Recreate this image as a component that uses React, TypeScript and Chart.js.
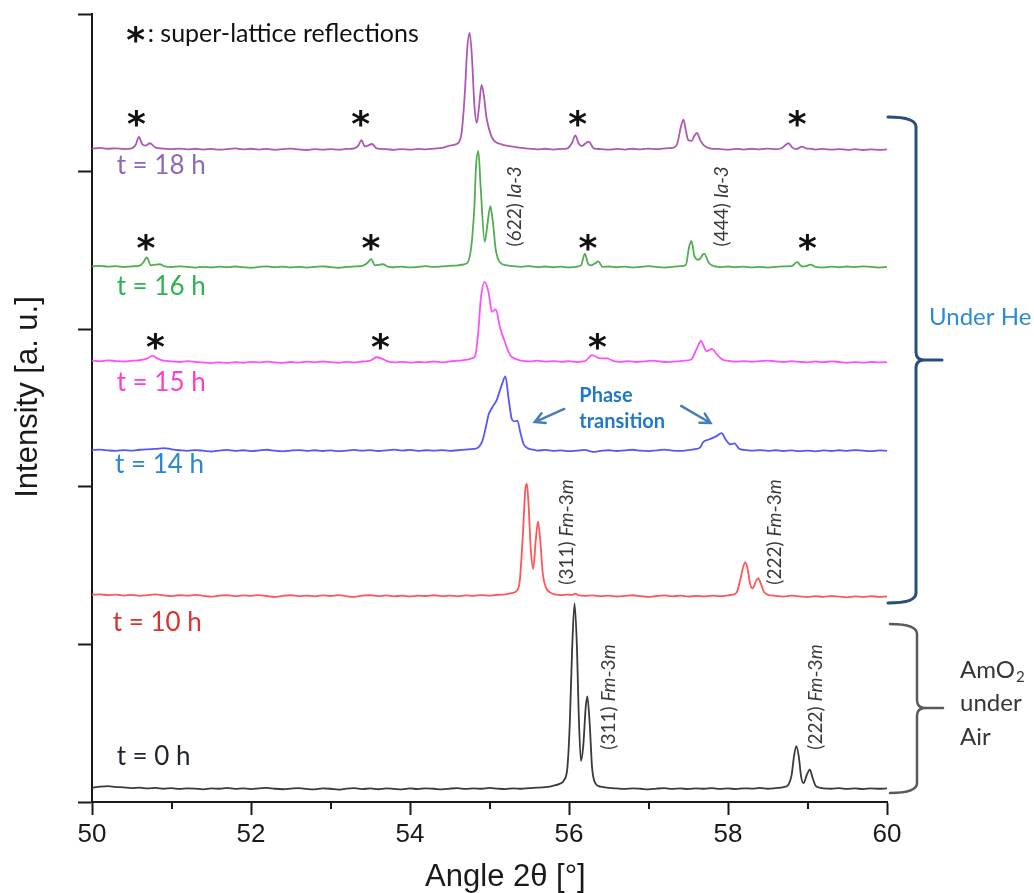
import React, { useEffect, useRef } from "react";
import { Chart, registerables } from "chart.js";

Chart.register(...registerables);

type Pt = [number, number];

// ---------------- axes ----------------
const angleMin = 50;
const angleMax = 60;
const intensityMin = 0;
const intensityMax = 5;
const majorTicks = [50, 52, 54, 56, 58, 60];
const minorTicks = [51, 53, 55, 57, 59];
const xTitle = "Angle 2\u03b8 [\u00b0]";
const yTitle = "Intensity [a. u.]";

// ---------------- series (angle 2θ, offset intensity) ----------------
const t0h: Pt[] = [
  [50.0, 0.090], [50.1, 0.097], [50.2, 0.101], [50.3, 0.095], [50.4, 0.093], [50.5, 0.088], [50.6, 0.091], [50.7, 0.086], [50.8, 0.089], [50.9, 0.084],
  [51.0, 0.088], [51.1, 0.083], [51.2, 0.087], [51.3, 0.085], [51.4, 0.080], [51.5, 0.086], [51.6, 0.084], [51.7, 0.089], [51.8, 0.083], [51.9, 0.087],
  [52.0, 0.082], [52.1, 0.086], [52.2, 0.090], [52.3, 0.084], [52.4, 0.081], [52.5, 0.085], [52.6, 0.088], [52.7, 0.083], [52.8, 0.080], [52.9, 0.086],
  [53.0, 0.084], [53.1, 0.079], [53.2, 0.085], [53.3, 0.088], [53.4, 0.082], [53.5, 0.086], [53.6, 0.081], [53.7, 0.087], [53.8, 0.083], [53.9, 0.080],
  [54.0, 0.086], [54.1, 0.082], [54.2, 0.087], [54.3, 0.084], [54.4, 0.080], [54.5, 0.085], [54.6, 0.088], [54.7, 0.083], [54.8, 0.087], [54.9, 0.084],
  [55.0, 0.089], [55.1, 0.085], [55.2, 0.082], [55.3, 0.087], [55.4, 0.084], [55.5, 0.088], [55.6, 0.091], [55.7, 0.095], [55.8, 0.103], [55.88, 0.115],
  [55.94, 0.14], [55.98, 0.22], [56.01, 0.50], [56.04, 0.98], [56.07, 1.26], [56.10, 0.98], [56.12, 0.60], [56.15, 0.26], [56.18, 0.36], [56.21, 0.60],
  [56.23, 0.67], [56.26, 0.50], [56.29, 0.22], [56.33, 0.12], [56.4, 0.097], [56.5, 0.090], [56.6, 0.086], [56.7, 0.083], [56.8, 0.087], [56.9, 0.084],
  [57.0, 0.080], [57.1, 0.085], [57.2, 0.088], [57.3, 0.083], [57.4, 0.086], [57.5, 0.082], [57.6, 0.087], [57.7, 0.084], [57.8, 0.088], [57.9, 0.083],
  [58.0, 0.086], [58.1, 0.082], [58.2, 0.087], [58.3, 0.085], [58.4, 0.089], [58.5, 0.084], [58.6, 0.088], [58.7, 0.094], [58.76, 0.11], [58.80, 0.17],
  [58.83, 0.29], [58.86, 0.355], [58.89, 0.29], [58.92, 0.16], [58.95, 0.12], [58.99, 0.17], [59.03, 0.205], [59.06, 0.16], [59.10, 0.105], [59.15, 0.091],
  [59.2, 0.087], [59.3, 0.084], [59.4, 0.088], [59.5, 0.083], [59.6, 0.086], [59.7, 0.082], [59.8, 0.087], [59.9, 0.084], [60.0, 0.086],
];

const t10h: Pt[] = [
  [50.0, 1.315], [50.1, 1.318], [50.2, 1.312], [50.3, 1.316], [50.4, 1.310], [50.5, 1.314], [50.6, 1.308], [50.7, 1.313], [50.8, 1.317], [50.9, 1.311],
  [51.0, 1.306], [51.1, 1.312], [51.2, 1.309], [51.3, 1.314], [51.4, 1.308], [51.5, 1.303], [51.6, 1.309], [51.7, 1.312], [51.8, 1.306], [51.9, 1.311],
  [52.0, 1.308], [52.1, 1.313], [52.2, 1.307], [52.3, 1.302], [52.4, 1.308], [52.5, 1.312], [52.6, 1.306], [52.7, 1.310], [52.8, 1.305], [52.9, 1.311],
  [53.0, 1.307], [53.1, 1.313], [53.2, 1.306], [53.3, 1.302], [53.4, 1.309], [53.5, 1.312], [53.6, 1.306], [53.7, 1.311], [53.8, 1.305], [53.9, 1.309],
  [54.0, 1.304], [54.1, 1.310], [54.2, 1.307], [54.3, 1.312], [54.4, 1.306], [54.5, 1.310], [54.6, 1.305], [54.7, 1.311], [54.8, 1.308], [54.9, 1.313],
  [55.0, 1.309], [55.1, 1.315], [55.2, 1.318], [55.28, 1.325], [55.34, 1.34], [55.38, 1.40], [55.42, 1.70], [55.45, 1.98], [55.47, 2.02], [55.49, 1.90],
  [55.52, 1.60], [55.55, 1.48], [55.58, 1.65], [55.61, 1.78], [55.64, 1.65], [55.67, 1.45], [55.71, 1.36], [55.76, 1.33], [55.82, 1.318], [55.9, 1.313],
  [55.98, 1.316], [56.04, 1.314], [56.08, 1.322], [56.12, 1.312], [56.2, 1.308], [56.3, 1.311], [56.4, 1.306], [56.5, 1.309], [56.6, 1.304], [56.7, 1.308],
  [56.8, 1.312], [56.9, 1.306], [57.0, 1.301], [57.1, 1.307], [57.2, 1.311], [57.3, 1.305], [57.4, 1.309], [57.5, 1.303], [57.6, 1.308], [57.7, 1.304],
  [57.8, 1.309], [57.9, 1.306], [58.0, 1.311], [58.06, 1.316], [58.11, 1.33], [58.15, 1.40], [58.19, 1.49], [58.22, 1.52], [58.25, 1.47], [58.28, 1.38],
  [58.31, 1.355], [58.35, 1.40], [58.38, 1.42], [58.41, 1.39], [58.45, 1.335], [58.5, 1.315], [58.6, 1.308], [58.7, 1.303], [58.8, 1.309], [58.9, 1.305],
  [59.0, 1.300], [59.1, 1.306], [59.2, 1.302], [59.3, 1.308], [59.4, 1.303], [59.5, 1.299], [59.6, 1.305], [59.7, 1.301], [59.8, 1.306], [59.9, 1.302], [60.0, 1.304],
];

const t14h: Pt[] = [
  [50.0, 2.232], [50.1, 2.236], [50.2, 2.231], [50.3, 2.228], [50.4, 2.233], [50.5, 2.229], [50.6, 2.235], [50.7, 2.238], [50.8, 2.240], [50.9, 2.246],
  [51.0, 2.238], [51.1, 2.232], [51.2, 2.228], [51.3, 2.233], [51.4, 2.229], [51.5, 2.224], [51.6, 2.230], [51.7, 2.234], [51.8, 2.228], [51.9, 2.232],
  [52.0, 2.226], [52.1, 2.231], [52.2, 2.235], [52.3, 2.229], [52.4, 2.225], [52.5, 2.230], [52.6, 2.233], [52.7, 2.228], [52.8, 2.232], [52.9, 2.227],
  [53.0, 2.231], [53.1, 2.226], [53.2, 2.230], [53.3, 2.234], [53.4, 2.229], [53.5, 2.233], [53.6, 2.227], [53.7, 2.231], [53.8, 2.236], [53.9, 2.230],
  [54.0, 2.234], [54.1, 2.228], [54.2, 2.232], [54.3, 2.229], [54.4, 2.233], [54.5, 2.228], [54.6, 2.232], [54.7, 2.236], [54.8, 2.240], [54.86, 2.25],
  [54.91, 2.29], [54.95, 2.37], [54.99, 2.46], [55.03, 2.50], [55.09, 2.55], [55.15, 2.64], [55.20, 2.70], [55.24, 2.56], [55.28, 2.43], [55.31, 2.415],
  [55.35, 2.42], [55.39, 2.34], [55.43, 2.27], [55.48, 2.245], [55.55, 2.236], [55.6, 2.230], [55.7, 2.234], [55.8, 2.228], [55.9, 2.231], [56.0, 2.226],
  [56.1, 2.230], [56.2, 2.234], [56.3, 2.222], [56.4, 2.228], [56.5, 2.232], [56.6, 2.227], [56.7, 2.231], [56.8, 2.235], [56.9, 2.229], [57.0, 2.226],
  [57.1, 2.231], [57.2, 2.236], [57.3, 2.230], [57.4, 2.228], [57.5, 2.233], [57.6, 2.240], [57.65, 2.250], [57.69, 2.285], [57.76, 2.300], [57.85, 2.320],
  [57.92, 2.340], [57.97, 2.300], [58.03, 2.270], [58.08, 2.275], [58.14, 2.242], [58.2, 2.234], [58.3, 2.229], [58.4, 2.233], [58.5, 2.228], [58.6, 2.232],
  [58.7, 2.227], [58.8, 2.231], [58.9, 2.226], [59.0, 2.230], [59.1, 2.225], [59.2, 2.231], [59.3, 2.227], [59.4, 2.232], [59.5, 2.228], [59.6, 2.233],
  [59.7, 2.229], [59.8, 2.226], [59.9, 2.231], [60.0, 2.228],
];

const t15h: Pt[] = [
  [50.0, 2.800], [50.1, 2.797], [50.2, 2.802], [50.3, 2.798], [50.4, 2.795], [50.5, 2.800], [50.6, 2.803], [50.7, 2.815], [50.76, 2.832], [50.82, 2.815],
  [50.9, 2.800], [51.0, 2.796], [51.1, 2.792], [51.2, 2.797], [51.3, 2.793], [51.4, 2.788], [51.5, 2.785], [51.6, 2.790], [51.7, 2.786], [51.8, 2.791],
  [51.9, 2.787], [52.0, 2.793], [52.1, 2.789], [52.2, 2.794], [52.3, 2.790], [52.4, 2.786], [52.5, 2.792], [52.6, 2.788], [52.7, 2.794], [52.8, 2.790],
  [52.9, 2.795], [53.0, 2.791], [53.1, 2.787], [53.2, 2.793], [53.3, 2.789], [53.4, 2.795], [53.5, 2.800], [53.58, 2.822], [53.65, 2.812], [53.72, 2.796],
  [53.8, 2.789], [53.9, 2.793], [54.0, 2.788], [54.1, 2.792], [54.2, 2.789], [54.3, 2.795], [54.4, 2.790], [54.5, 2.796], [54.6, 2.800], [54.7, 2.805],
  [54.78, 2.815], [54.82, 2.83], [54.86, 2.99], [54.89, 3.19], [54.94, 3.30], [54.99, 3.23], [55.03, 3.11], [55.08, 3.125], [55.13, 3.015], [55.20, 2.91],
  [55.26, 2.835], [55.34, 2.81], [55.4, 2.800], [55.5, 2.796], [55.6, 2.800], [55.7, 2.794], [55.8, 2.798], [55.9, 2.793], [56.0, 2.797], [56.1, 2.792],
  [56.2, 2.797], [56.29, 2.835], [56.39, 2.815], [56.48, 2.815], [56.56, 2.798], [56.65, 2.793], [56.75, 2.797], [56.85, 2.792], [56.95, 2.796], [57.05, 2.800],
  [57.15, 2.795], [57.25, 2.791], [57.35, 2.796], [57.45, 2.800], [57.54, 2.81], [57.61, 2.88], [57.66, 2.925], [57.73, 2.86], [57.80, 2.875], [57.86, 2.84],
  [57.94, 2.805], [58.0, 2.800], [58.1, 2.794], [58.2, 2.798], [58.3, 2.793], [58.4, 2.797], [58.5, 2.801], [58.6, 2.796], [58.7, 2.792], [58.8, 2.797],
  [58.9, 2.793], [59.0, 2.790], [59.1, 2.795], [59.2, 2.791], [59.3, 2.796], [59.4, 2.792], [59.5, 2.787], [59.6, 2.791], [59.7, 2.788], [59.8, 2.792],
  [59.9, 2.789], [60.0, 2.791],
];

const t16h: Pt[] = [
  [50.0, 3.398], [50.1, 3.402], [50.2, 3.397], [50.3, 3.400], [50.4, 3.395], [50.5, 3.399], [50.6, 3.404], [50.64, 3.420], [50.69, 3.455], [50.74, 3.405],
  [50.8, 3.410], [50.85, 3.412], [50.92, 3.398], [51.0, 3.394], [51.1, 3.399], [51.2, 3.395], [51.3, 3.391], [51.4, 3.396], [51.5, 3.392], [51.6, 3.397],
  [51.7, 3.393], [51.8, 3.398], [51.9, 3.394], [52.0, 3.390], [52.1, 3.395], [52.2, 3.399], [52.3, 3.393], [52.4, 3.397], [52.5, 3.392], [52.6, 3.396],
  [52.7, 3.391], [52.8, 3.395], [52.9, 3.399], [53.0, 3.394], [53.1, 3.390], [53.2, 3.395], [53.3, 3.398], [53.4, 3.402], [53.46, 3.418], [53.51, 3.445],
  [53.56, 3.405], [53.62, 3.410], [53.66, 3.412], [53.72, 3.397], [53.8, 3.393], [53.9, 3.397], [54.0, 3.392], [54.1, 3.396], [54.2, 3.400], [54.3, 3.395],
  [54.4, 3.398], [54.5, 3.402], [54.6, 3.405], [54.68, 3.412], [54.72, 3.42], [54.77, 3.52], [54.81, 3.78], [54.83, 4.03], [54.86, 4.13], [54.89, 3.89],
  [54.94, 3.555], [54.97, 3.65], [55.01, 3.78], [55.04, 3.69], [55.08, 3.50], [55.13, 3.425], [55.22, 3.405], [55.3, 3.400], [55.4, 3.396], [55.5, 3.400],
  [55.6, 3.394], [55.7, 3.398], [55.8, 3.393], [55.9, 3.397], [56.0, 3.392], [56.08, 3.396], [56.15, 3.405], [56.2, 3.48], [56.24, 3.415], [56.28, 3.405],
  [56.33, 3.418], [56.37, 3.43], [56.42, 3.395], [56.5, 3.398], [56.6, 3.393], [56.7, 3.397], [56.8, 3.392], [56.9, 3.396], [57.0, 3.400], [57.1, 3.395],
  [57.2, 3.391], [57.3, 3.396], [57.4, 3.400], [57.47, 3.408], [57.51, 3.52], [57.54, 3.56], [57.58, 3.46], [57.63, 3.44], [57.70, 3.48], [57.76, 3.42],
  [57.84, 3.398], [57.9, 3.394], [58.0, 3.398], [58.1, 3.393], [58.2, 3.397], [58.3, 3.392], [58.4, 3.396], [58.5, 3.391], [58.6, 3.395], [58.7, 3.399],
  [58.8, 3.400], [58.87, 3.425], [58.93, 3.398], [58.98, 3.400], [59.04, 3.410], [59.1, 3.396], [59.2, 3.392], [59.3, 3.397], [59.4, 3.393], [59.5, 3.398],
  [59.6, 3.394], [59.7, 3.399], [59.8, 3.395], [59.9, 3.391], [60.0, 3.396],
];

const t18h: Pt[] = [
  [50.0, 4.146], [50.1, 4.150], [50.2, 4.145], [50.3, 4.148], [50.4, 4.143], [50.5, 4.147], [50.55, 4.17], [50.59, 4.22], [50.63, 4.175], [50.67, 4.165],
  [50.73, 4.18], [50.8, 4.152], [50.9, 4.146], [51.0, 4.142], [51.1, 4.146], [51.2, 4.141], [51.3, 4.145], [51.4, 4.140], [51.5, 4.144], [51.6, 4.139],
  [51.7, 4.143], [51.8, 4.147], [51.9, 4.141], [52.0, 4.145], [52.1, 4.140], [52.2, 4.144], [52.3, 4.138], [52.4, 4.142], [52.5, 4.146], [52.6, 4.141],
  [52.7, 4.137], [52.8, 4.142], [52.9, 4.139], [53.0, 4.143], [53.1, 4.139], [53.2, 4.144], [53.3, 4.148], [53.35, 4.165], [53.39, 4.20], [53.43, 4.16],
  [53.47, 4.165], [53.52, 4.175], [53.58, 4.148], [53.7, 4.142], [53.8, 4.138], [53.9, 4.143], [54.0, 4.139], [54.1, 4.144], [54.2, 4.141], [54.3, 4.146],
  [54.4, 4.150], [54.5, 4.165], [54.6, 4.178], [54.65, 4.25], [54.69, 4.50], [54.72, 4.78], [54.75, 4.88], [54.78, 4.72], [54.81, 4.42], [54.84, 4.31],
  [54.87, 4.42], [54.9, 4.55], [54.93, 4.48], [54.96, 4.35], [55.0, 4.26], [55.05, 4.20], [55.12, 4.178], [55.2, 4.166], [55.3, 4.158], [55.4, 4.150],
  [55.5, 4.146], [55.6, 4.141], [55.7, 4.145], [55.8, 4.140], [55.9, 4.144], [55.98, 4.148], [56.04, 4.185], [56.08, 4.23], [56.12, 4.18], [56.16, 4.162],
  [56.21, 4.18], [56.25, 4.19], [56.31, 4.148], [56.4, 4.143], [56.5, 4.139], [56.6, 4.144], [56.7, 4.140], [56.8, 4.145], [56.9, 4.141], [57.0, 4.146],
  [57.1, 4.142], [57.2, 4.147], [57.3, 4.150], [57.36, 4.175], [57.41, 4.29], [57.44, 4.33], [57.47, 4.26], [57.5, 4.20], [57.54, 4.195], [57.58, 4.23],
  [57.61, 4.245], [57.65, 4.20], [57.7, 4.165], [57.77, 4.148], [57.9, 4.143], [58.0, 4.139], [58.1, 4.144], [58.2, 4.140], [58.3, 4.145], [58.4, 4.141],
  [58.5, 4.146], [58.6, 4.142], [58.68, 4.150], [58.76, 4.18], [58.81, 4.152], [58.86, 4.143], [58.93, 4.158], [58.98, 4.148], [59.05, 4.144], [59.1, 4.140],
  [59.2, 4.144], [59.3, 4.139], [59.4, 4.143], [59.5, 4.138], [59.6, 4.142], [59.7, 4.137], [59.8, 4.141], [59.9, 4.138], [60.0, 4.141],
];

const seriesData = [t0h, t10h, t14h, t15h, t16h, t18h];
const seriesLabels = ["t = 0 h", "t = 10 h", "t = 14 h", "t = 15 h", "t = 16 h", "t = 18 h"];
const lineColors = ["#3a3a3a", "#ff5656", "#5656ff", "#ff50ff", "#50ad50", "#ad58b2"];
const labelColors = ["#1e2530", "#d9342b", "#2a86d6", "#ff3dc8", "#2fb24f", "#8e6ab8"];
const labelAnchors: Pt[] = [[50.31, 0.286], [50.26, 1.136], [50.29, 2.14], [50.31, 2.659], [50.31, 3.268], [50.31, 4.036]];

// super-lattice reflection markers
const superLatticeMarks: Pt[] = [
  [50.56, 4.34], [53.38, 4.34], [56.11, 4.34], [58.87, 4.34],
  [50.68, 3.547], [53.51, 3.547], [56.24, 3.547], [59.0, 3.547],
  [50.80, 2.921], [53.63, 2.921], [56.36, 2.921],
];
const legendStar: Pt = [50.55, 4.867];
const legendText = ": super-lattice reflections";
const legendTextAnchor: Pt = [50.70, 4.873];

// reflection annotations (rotated)
const reflectionHkl = ["(622)", "(444)", "(311)", "(222)", "(311)", "(222)"];
const reflectionGroup = ["Ia-3", "Ia-3", "Fm-3m", "Fm-3m", "Fm-3m", "Fm-3m"];
const reflectionAnchors: Pt[] = [[55.32, 3.78], [57.92, 3.78], [55.97, 1.713], [58.59, 1.713], [56.50, 0.666], [59.11, 0.666]];

const phaseLines = ["Phase", "transition"];
const phaseAnchors: Pt[] = [[56.13, 2.582], [56.13, 2.417]];
const arrowFrom: Pt[] = [[55.94, 2.494], [57.41, 2.513]];
const arrowTo: Pt[] = [[55.57, 2.411], [57.78, 2.405]];

const heBracket = [4.347, 2.805, 1.263];
const airBracket = [1.129, 0.596, 0.057];
const heText = "Under He";
const heTextLevel = 3.077;
const airLines = ["AmO", "under", "Air"];
const airLevels = [0.838, 0.628, 0.412];

const AXIS = "#1a1a1a";
const ARIAL = "'Liberation Sans', Arial, sans-serif";
const CAL = "Lato, 'Noto Sans', sans-serif";

function drawStar(ctx: CanvasRenderingContext2D, cx: number, cy: number) {
  ctx.font = `bold 36px 'DejaVu Sans', sans-serif`;
  ctx.textAlign = "left";
  ctx.textBaseline = "alphabetic";
  const m = ctx.measureText("*");
  const x = cx - (m.actualBoundingBoxRight - m.actualBoundingBoxLeft) / 2;
  const y = cy + (m.actualBoundingBoxAscent - m.actualBoundingBoxDescent) / 2;
  ctx.fillStyle = "#111";
  ctx.fillText("*", x, y);
}

function groupSegments(hkl: string, group: string): [string, boolean][] {
  if (group === "Fm-3m") return [[hkl + " ", false], ["Fm", true], ["-3", false], ["m", true]];
  return [[hkl + " ", false], [group, true]];
}

function drawRotated(ctx: CanvasRenderingContext2D, cx: number, cy: number, segs: [string, boolean][], size: number, color: string) {
  ctx.save();
  ctx.translate(cx, cy);
  ctx.rotate(-Math.PI / 2);
  ctx.fillStyle = color;
  ctx.textBaseline = "middle";
  ctx.textAlign = "left";
  const f = (it: boolean) => `${it ? "italic " : ""}${size}px ${CAL}`;
  let total = 0;
  segs.forEach(([t, it]) => { ctx.font = f(it); total += ctx.measureText(t).width; });
  let x = -total / 2;
  segs.forEach(([t, it]) => { ctx.font = f(it); ctx.fillText(t, x, 0); x += ctx.measureText(t).width; });
  ctx.restore();
}

function drawBracket(ctx: CanvasRenderingContext2D, x0: number, xv: number, xt: number, yT: number, yM: number, yB: number, color: string, w: number) {
  ctx.save();
  ctx.strokeStyle = color;
  ctx.lineWidth = w;
  ctx.lineJoin = "round";
  ctx.lineCap = "round";
  ctx.beginPath();
  ctx.moveTo(x0, yT);
  ctx.quadraticCurveTo(xv, yT, xv, yT + 10);
  ctx.lineTo(xv, yM - 8);
  ctx.quadraticCurveTo(xv, yM, xv + 8, yM);
  ctx.lineTo(xt, yM);
  ctx.moveTo(xv + 8, yM);
  ctx.quadraticCurveTo(xv, yM, xv, yM + 8);
  ctx.lineTo(xv, yB - 10);
  ctx.quadraticCurveTo(xv, yB, x0, yB);
  ctx.stroke();
  ctx.restore();
}

function drawArrow(ctx: CanvasRenderingContext2D, x1: number, y1: number, x2: number, y2: number) {
  const ang = Math.atan2(y2 - y1, x2 - x1);
  const h = 11;
  ctx.save();
  ctx.strokeStyle = "#4a7db8";
  ctx.lineWidth = 2.5;
  ctx.lineCap = "round";
  ctx.beginPath();
  ctx.moveTo(x1, y1);
  ctx.lineTo(x2, y2);
  ctx.moveTo(x2 - h * Math.cos(ang - 0.5), y2 - h * Math.sin(ang - 0.5));
  ctx.lineTo(x2, y2);
  ctx.lineTo(x2 - h * Math.cos(ang + 0.5), y2 - h * Math.sin(ang + 0.5));
  ctx.stroke();
  ctx.restore();
}

const annotationPlugin = {
  id: "xrdAnnotations",
  afterDraw(chart: any) {
    const { ctx, chartArea, scales } = chart;
    const px = (a: number) => scales.x.getPixelForValue(a);
    const py = (v: number) => scales.y.getPixelForValue(v);
    ctx.save();

    // minor x ticks
    ctx.strokeStyle = AXIS;
    ctx.lineWidth = 2;
    minorTicks.forEach((m) => {
      const x = Math.round(px(m));
      ctx.beginPath();
      ctx.moveTo(x, chartArea.bottom);
      ctx.lineTo(x, chartArea.bottom + 7);
      ctx.stroke();
    });

    // axis titles
    ctx.fillStyle = AXIS;
    ctx.font = `31px ${ARIAL}`;
    ctx.textAlign = "center";
    ctx.textBaseline = "middle";
    ctx.fillText(xTitle, px(55.2), chartArea.bottom + 75);
    ctx.save();
    ctx.translate(chartArea.left - 64, py(2.57));
    ctx.rotate(-Math.PI / 2);
    ctx.fillText(yTitle, 0, 0);
    ctx.restore();

    // series labels
    ctx.textAlign = "left";
    ctx.textBaseline = "middle";
    ctx.font = `26px ${CAL}`;
    seriesLabels.forEach((s, i) => {
      ctx.fillStyle = labelColors[i];
      ctx.fillText(s, px(labelAnchors[i][0]), py(labelAnchors[i][1]));
    });

    // super-lattice legend and markers
    drawStar(ctx, px(legendStar[0]), py(legendStar[1]));
    ctx.fillStyle = "#111";
    ctx.font = `25px ${CAL}`;
    ctx.textAlign = "left";
    ctx.textBaseline = "middle";
    ctx.fillText(legendText, px(legendTextAnchor[0]), py(legendTextAnchor[1]));
    superLatticeMarks.forEach(([a, v]) => drawStar(ctx, px(a), py(v)));

    // reflection labels
    reflectionHkl.forEach((h, i) => {
      drawRotated(ctx, px(reflectionAnchors[i][0]), py(reflectionAnchors[i][1]), groupSegments(h, reflectionGroup[i]), 19, "#3a3a3a");
    });

    // phase transition
    ctx.fillStyle = "#1f78c8";
    ctx.font = `bold 20px ${CAL}`;
    ctx.textAlign = "left";
    ctx.textBaseline = "middle";
    phaseLines.forEach((t, i) => ctx.fillText(t, px(phaseAnchors[i][0]), py(phaseAnchors[i][1])));
    arrowFrom.forEach((f, i) => drawArrow(ctx, px(f[0]), py(f[1]), px(arrowTo[i][0]), py(arrowTo[i][1])));

    // brackets
    const r = chartArea.right;
    drawBracket(ctx, r + 1, r + 29, r + 55, py(heBracket[0]), py(heBracket[1]), py(heBracket[2]), "#2b4c7e", 3);
    drawBracket(ctx, r + 3, r + 30, r + 56, py(airBracket[0]), py(airBracket[1]), py(airBracket[2]), "#5a5a5a", 2.5);

    ctx.font = `24px ${CAL}`;
    ctx.textAlign = "left";
    ctx.textBaseline = "middle";
    ctx.fillStyle = "#2e8bd6";
    ctx.fillText(heText, r + 42, py(heTextLevel));

    ctx.fillStyle = "#3a3530";
    airLines.forEach((t, i) => {
      ctx.font = `24px ${CAL}`;
      ctx.fillText(t, r + 73, py(airLevels[i]));
      if (i === 0) {
        const w = ctx.measureText(t).width;
        ctx.font = `15px ${CAL}`;
        ctx.fillText("2", r + 73 + w + 1, py(airLevels[i]) + 7);
      }
    });

    ctx.restore();
  },
};

export default function App() {
  const ref = useRef<HTMLCanvasElement>(null);
  useEffect(() => {
    const canvas = ref.current;
    if (!canvas) return;
    const chart = new Chart(canvas, {
      type: "line",
      data: {
        datasets: seriesData.map((d, i) => ({
          label: seriesLabels[i],
          data: d.map(([x, y]) => ({ x, y })),
          borderColor: lineColors[i],
          borderWidth: 1.8,
          pointRadius: 0,
          fill: false,
          cubicInterpolationMode: "monotone" as const,
        })),
      },
      options: {
        responsive: false,
        animation: false,
        devicePixelRatio: 1,
        layout: { padding: { left: 0, right: 147, top: 14, bottom: 0 } },
        plugins: { legend: { display: false }, tooltip: { enabled: false } },
        scales: {
          x: {
            type: "linear",
            min: angleMin,
            max: angleMax,
            afterFit: (s: any) => { s.height = 91; },
            border: { display: true, color: AXIS, width: 2 },
            grid: {
              drawOnChartArea: false,
              drawTicks: true,
              tickLength: 13,
              tickWidth: 2,
              tickColor: (c: any) => (majorTicks.includes(c.tick?.value) ? AXIS : "rgba(0,0,0,0)"),
            },
            ticks: {
              stepSize: 1,
              autoSkip: false,
              maxRotation: 0,
              padding: 4,
              color: AXIS,
              font: { family: ARIAL, size: 26 },
              callback: (v: any) => (majorTicks.includes(Number(v)) ? String(v) : ""),
            },
          },
          y: {
            type: "linear",
            min: intensityMin,
            max: intensityMax,
            afterFit: (s: any) => { s.width = 92; },
            border: { display: true, color: AXIS, width: 2 },
            grid: { drawOnChartArea: false, drawTicks: true, tickLength: 14, tickWidth: 2, tickColor: AXIS },
            ticks: { display: false, stepSize: 1 },
          },
        },
      },
      plugins: [annotationPlugin],
    });
    return () => chart.destroy();
  }, []);
  return (
    <canvas
      ref={ref}
      width={1034}
      height={893}
      style={{ position: "fixed", left: 0, top: 0, display: "block", background: "#fff" }}
    />
  );
}
